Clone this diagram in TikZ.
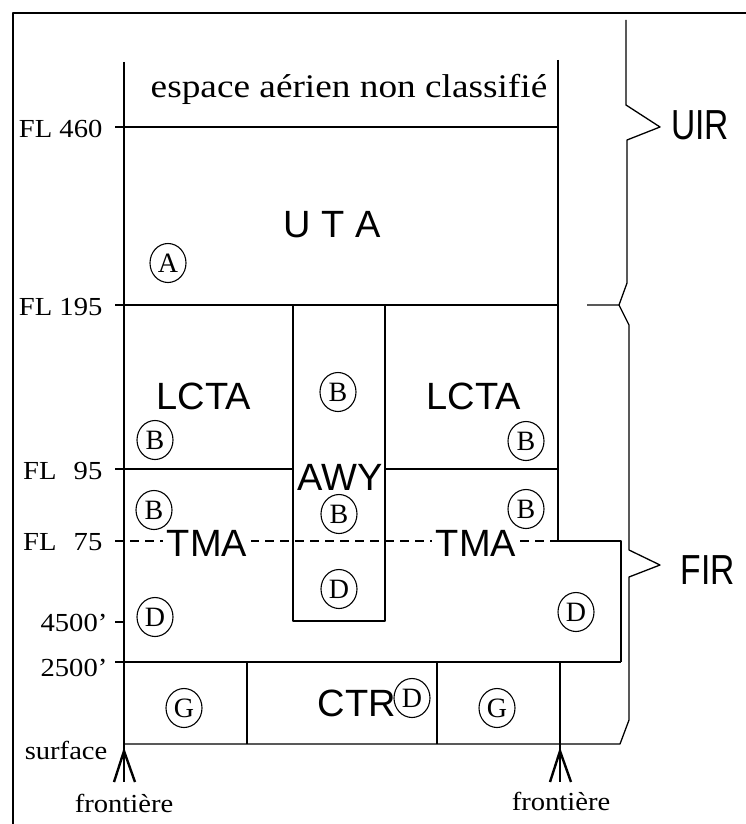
\documentclass[tikz,border=0pt]{standalone}
\usepackage{fontspec}
\usepackage{graphicx}
\setmainfont{Liberation Serif}
\newfontfamily\hsf{Liberation Sans}
\usetikzlibrary{shapes.geometric}
\newcommand{\myWide}[1]{\scalebox{1.1}[1]{#1}}
\newcommand{\myNarrow}[1]{\scalebox{0.8}[1]{#1}}
\begin{document}
\begin{tikzpicture}[x=1pt,y=-1pt,line width=1.3pt,line join=round,
  lbl/.style={font=\fontsize{26}{26}\selectfont,inner sep=0pt},
  zone/.style={font=\hsf\fontsize{38}{38}\selectfont,inner sep=0pt},
  big/.style={font=\hsf\fontsize{42}{42}\selectfont,inner sep=0pt},
  cls/.style={draw,ellipse,line width=1.1pt,minimum width=36pt,minimum height=39pt,inner sep=0pt,font=\fontsize{28}{28}\selectfont},
  tip/.style={line width=2.4pt,line join=miter},
  thin/.style={line width=0.8pt}]
\useasboundingbox (0,0) rectangle (746,824);
% frame
\draw (13,824) -- (13,13) -- (746,13);
% frontiers
\draw (124,62) -- (124,782);
\draw (558,60) -- (558,541) -- (621,541) -- (621,662);
\draw (560,662) -- (560,782);
% arrows
\draw[tip] (114,782) -- (124,751) -- (135,782);
\draw[tip] (550,782) -- (560,751) -- (571,782);
% altitude lines
\draw (115,127) -- (558,127);
\draw (115,305) -- (558,305);
\draw (115,469) -- (293,469);
\draw (385,469) -- (558,469);
\draw (293,305) -- (293,621) -- (385,621) -- (385,305);
\draw[dash pattern=on 9pt off 6pt] (115,541) -- (558,541);
\draw (115,622) -- (124,622);
\draw (115,662) -- (621,662);
\draw (247,662) -- (247,744);
\draw (437,662) -- (437,744);
% bottom line and FIR brace
\draw (124,744) -- (620,744) -- (629,720) -- (629,577) -- (660,565) -- (629,550) -- (629,325) -- (619,305) -- (587,305);
% UIR brace
\draw (626,20) -- (626,105) -- (660,127) -- (627,140) -- (627,283) -- (619,305);
% texts
\node[lbl,anchor=base] (esp) at (349,98) {\scalebox{1.13}[1]{\fontsize{33}{33}\selectfont espace aérien non classifié}};
\node[lbl,anchor=east] (fl460) at (103,129) {\myWide{FL 460}};
\node[lbl,anchor=east] (fl195) at (103,307) {\myWide{FL 195}};
\node[lbl,anchor=east] (fl95) at (103,471) {\myWide{\makebox[72pt]{FL\hfill95}}};
\node[lbl,anchor=east] (fl75) at (103,542) {\myWide{\makebox[72pt]{FL\hfill75}}};
\node[lbl,anchor=east] (a4500) at (108,623) {\myWide{4500'}};
\node[lbl,anchor=east] (a2500) at (108,668) {\myWide{2500'}};
\node[lbl,anchor=base east] (surf) at (108,759) {\myWide{surface}};
\node[lbl,anchor=base] (frl) at (124,812) {\myWide{frontière}};
\node[lbl,anchor=base] (frr) at (561,810) {\myWide{frontière}};
\node[zone] (uta) at (332,225) {U T A};
\node[zone] (lcta1) at (204,396) {LCTA};
\node[zone] (lcta2) at (474,396) {LCTA};
\node[zone] (awy) at (340,477) {AWY};
\node[zone,fill=white,inner xsep=4pt,inner ysep=1pt] (tma1) at (207,543) {TMA};
\node[zone,fill=white,inner xsep=4pt,inner ysep=1pt] (tma2) at (476,543) {TMA};
\node[zone] (ctr) at (357,703) {CTR};
\node[big] (uir) at (700,125) {\myNarrow{UIR}};
\node[big] (fir) at (708,570) {\myNarrow{FIR}};
% classes
\node[cls] (cA) at (168,263) {A};
\node[cls] (cB1) at (155,440) {B};
\node[cls] (cB2) at (338,392) {B};
\node[cls] (cB3) at (526,441) {B};
\node[cls] (cB4) at (154,510) {B};
\node[cls] (cB5) at (339,514) {B};
\node[cls] (cB6) at (526,509) {B};
\node[cls] (cD1) at (339,589) {D};
\node[cls] (cD2) at (155,617) {D};
\node[cls] (cD3) at (576,612) {D};
\node[cls] (cG1) at (184,708) {G};
\node[cls] (cD4) at (412,698) {D};
\node[cls] (cG2) at (497,708) {G};
\end{tikzpicture}
\end{document}
